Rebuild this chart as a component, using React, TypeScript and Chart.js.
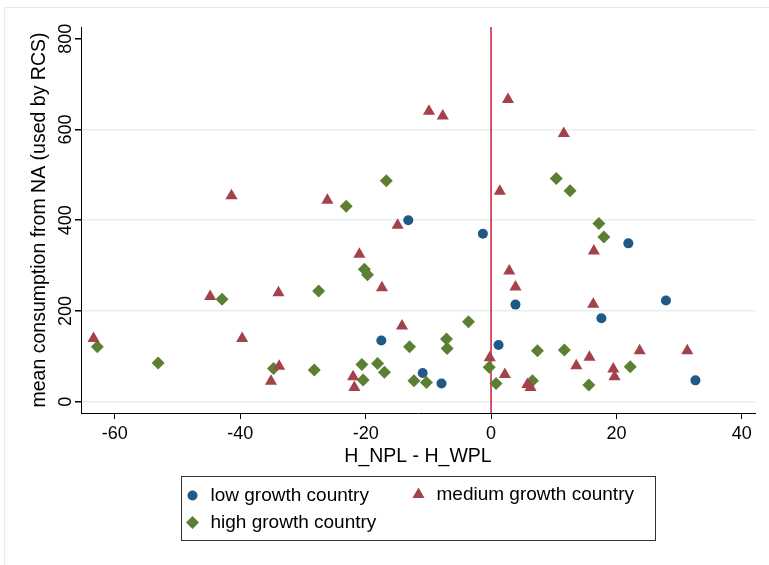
import React, { useEffect, useRef } from 'react';
import { Chart, registerables } from 'chart.js';

Chart.register(...registerables);

// ---- data ----
const lowGrowthX = [-13.2, -1.3, -17.5, -10.9, -7.9, 1.2, 3.9, 21.9, 17.6, 27.9, 32.6];
const lowGrowthY = [400, 370, 135, 63, 40, 125, 214, 349, 184, 223, 47];

const mediumGrowthX = [-41.4, -9.9, -7.7, 2.7, -26.1, -14.9, 1.4, -21.0, 2.9, 11.6, 16.4, -63.4, -44.8, -33.9, -39.7, -33.8, -35.1, -17.4, -14.2, 3.9, -22.0, -21.8, -0.2, 2.2, 5.8, 6.3, 16.3, 23.7, 31.3, 13.6, 15.7, 19.5, 19.7];
const mediumGrowthY = [454, 640, 630, 666, 444, 389, 464, 325, 288, 591, 332, 139, 232, 240, 139, 78, 45, 251, 167, 253, 55, 31, 97, 60, 38, 31, 215, 112, 112, 79, 98, 72, 55];

const highGrowthX = [-16.7, -23.1, -20.2, -19.7, 10.4, 12.6, 17.2, 18.0, -62.8, -53.1, -42.9, -34.7, -28.2, -27.5, -20.6, -20.4, -18.1, -17.0, -13.0, -12.3, -10.3, -7.1, -7.0, -3.6, -0.3, 0.8, 7.4, 11.7, 6.6, 15.6, 22.2];
const highGrowthY = [487, 431, 292, 280, 492, 465, 393, 363, 121, 85, 226, 73, 70, 244, 82, 48, 84, 65, 121, 46, 42, 138, 117, 176, 76, 40, 112, 114, 46, 37, 77];

const xTicks = [-60, -40, -20, 0, 20, 40];
const yTicks = [0, 200, 400, 600, 800];

const seriesNames = ['low growth country', 'medium growth country', 'high growth country'];

const BLUE = '#1f5a86';
const RED = '#a3424a';
const GREEN = '#5b8033';
const FONT = '"Liberation Sans", Arial, Helvetica, sans-serif';

const toPoints = (xs: number[], ys: number[]) => xs.map((x, i) => ({ x, y: ys[i] }));

function drawMarker(ctx: CanvasRenderingContext2D, style: string, r: number, x: number, y: number) {
  ctx.beginPath();
  if (style === 'circle') {
    ctx.arc(x, y, r, 0, Math.PI * 2);
  } else if (style === 'triangle') {
    for (let k = 0; k < 3; k++) {
      const a = (k * 2 * Math.PI) / 3;
      const px = x + Math.sin(a) * r;
      const py = y - Math.cos(a) * r;
      if (k === 0) ctx.moveTo(px, py); else ctx.lineTo(px, py);
    }
  } else {
    ctx.moveTo(x - r, y);
    ctx.lineTo(x, y - r);
    ctx.lineTo(x + r, y);
    ctx.lineTo(x, y + r);
  }
  ctx.closePath();
  ctx.fill();
}

const refLinePlugin = {
  id: 'refLine',
  beforeDatasetsDraw(chart: any) {
    const { ctx, chartArea, scales } = chart;
    const px = scales.x.getPixelForValue(0);
    ctx.save();
    ctx.strokeStyle = '#c81e3c';
    ctx.lineWidth = 1.5;
    ctx.beginPath();
    ctx.moveTo(px, chartArea.top);
    ctx.lineTo(px, chartArea.bottom);
    ctx.stroke();
    ctx.restore();
  },
};

const legendPlugin = {
  id: 'boxLegend',
  afterDraw(chart: any) {
    const { ctx, chartArea } = chart;
    const cx = (chartArea.left + chartArea.right) / 2;
    const w = 474;
    const h = 64;
    const left = Math.round(cx - w / 2) + 0.5;
    const top = Math.round(chartArea.bottom + 63) + 0.5;
    ctx.save();
    ctx.strokeStyle = '#333';
    ctx.lineWidth = 1;
    ctx.strokeRect(left, top, w, h);
    ctx.font = `19px ${FONT}`;
    ctx.textBaseline = 'middle';
    ctx.textAlign = 'left';
    const items = [
      { style: 'circle', color: BLUE, r: 5, mx: left + 11, my: top + 19 },
      { style: 'triangle', color: RED, r: 7, mx: left + 237, my: top + 18 },
      { style: 'rectRot', color: GREEN, r: 6.5, mx: left + 11, my: top + 46 },
    ];
    items.forEach((it, i) => {
      ctx.fillStyle = it.color;
      drawMarker(ctx, it.style, it.r, it.mx, it.my);
      ctx.fillStyle = '#000';
      ctx.fillText(seriesNames[i], it.mx + 18, it.my);
    });
    ctx.restore();
  },
};

export default function App() {
  const ref = useRef<HTMLCanvasElement | null>(null);
  useEffect(() => {
    if (!ref.current) return;
    const chart = new Chart(ref.current, {
      type: 'scatter',
      data: {
        datasets: [
          {
            label: seriesNames[0],
            data: toPoints(lowGrowthX, lowGrowthY),
            pointStyle: 'circle',
            pointRadius: 5,
            backgroundColor: BLUE,
            borderColor: BLUE,
            pointBorderWidth: 0,
          },
          {
            label: seriesNames[1],
            data: toPoints(mediumGrowthX, mediumGrowthY),
            pointStyle: 'triangle',
            pointRadius: 7,
            backgroundColor: RED,
            borderColor: RED,
            pointBorderWidth: 0,
          },
          {
            label: seriesNames[2],
            data: toPoints(highGrowthX, highGrowthY),
            pointStyle: 'rectRot',
            pointRadius: 6.5,
            backgroundColor: GREEN,
            borderColor: GREEN,
            pointBorderWidth: 0,
          },
        ],
      },
      options: {
        animation: false,
        responsive: false,
        maintainAspectRatio: false,
        layout: { padding: { left: 0, right: 14, top: 27, bottom: 92 } },
        plugins: {
          legend: { display: false },
          tooltip: { enabled: false },
        },
        scales: {
          x: {
            type: 'linear',
            min: -65.4,
            max: 42.1,
            afterBuildTicks: (s: any) => { s.ticks = xTicks.map((v) => ({ value: v })); },
            afterFit: (s: any) => { s.height = 60; },
            grid: { display: true, drawOnChartArea: false, drawTicks: true, tickLength: 6, tickColor: '#000', tickWidth: 1 },
            border: { display: true, color: '#000', width: 1 },
            ticks: { color: '#000', font: { family: FONT, size: 18 }, padding: 4, maxRotation: 0, minRotation: 0 },
            title: { display: true, text: 'H_NPL - H_WPL', color: '#000', font: { family: FONT, size: 19.5 }, padding: { top: 0, bottom: 5 } },
          },
          y: {
            type: 'linear',
            min: -25,
            max: 826,
            afterBuildTicks: (s: any) => { s.ticks = yTicks.map((v) => ({ value: v })); },
            afterFit: (s: any) => { s.width = 81; },
            grid: {
              display: true,
              drawOnChartArea: true,
              drawTicks: true,
              tickLength: 6,
              tickColor: '#000',
              color: (c: any) => (c.tick && c.tick.value === 800 ? 'rgba(0,0,0,0)' : '#e6eeee'),
              lineWidth: 1.5,
            },
            border: { display: true, color: '#000', width: 1 },
            ticks: { color: '#000', font: { family: FONT, size: 18 }, padding: -6, minRotation: 90, maxRotation: 90, crossAlign: 'center' },
            title: { display: true, text: 'mean consumption from NA (used by RCS)', color: '#000', font: { family: FONT, size: 19.5 }, padding: { top: 28, bottom: 0 } },
          },
        },
      },
      plugins: [refLinePlugin, legendPlugin],
    });
    return () => chart.destroy();
  }, []);

  return (
    <div style={{ position: 'absolute', left: 0, top: 0, width: 769, height: 565, background: '#fff' }}>
      <div style={{ position: 'absolute', left: 4, top: 7, width: 765, height: 558, borderLeft: '1px solid #e8eaea', borderTop: '1px solid #e8eaea' }} />
      <canvas ref={ref} width={769} height={565} style={{ position: 'absolute', left: 0, top: 0, width: 769, height: 565 }} />
    </div>
  );
}
